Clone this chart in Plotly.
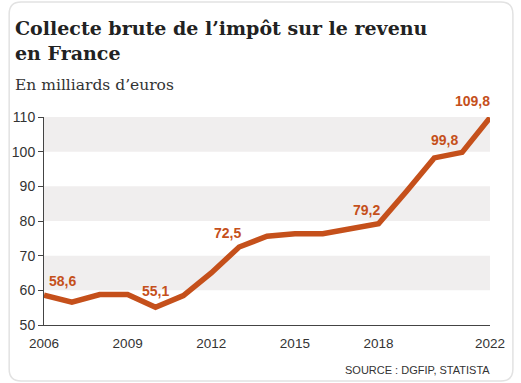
import plotly.graph_objects as go

years = list(range(2006, 2023))
values = [58.6, 56.6, 58.8, 58.8, 55.1, 58.5, 65.0, 72.5, 75.6, 76.3, 76.3, 77.7, 79.2, 88.5, 98.2, 99.8, 109.8]
label_years = [2006, 2010, 2013, 2018, 2021, 2022]
x_ticks = [2006, 2009, 2012, 2015, 2018, 2022]
y_ticks = [50, 60, 70, 80, 90, 100, 110]
bands = [(60, 70), (80, 90), (100, 110)]

W, H = 521, 383
L, R, T, B = 42, 31, 117, 58
pw, ph = W - L - R, H - T - B

ORANGE = "#C5501B"

fig = go.Figure()
fig.add_trace(go.Scatter(x=years, y=values, mode="lines",
                         line=dict(color=ORANGE, width=5.5), hoverinfo="skip",
                         cliponaxis=False))

shapes = []
for y0, y1 in bands:
    shapes.append(dict(type="rect", xref="x", yref="y", x0=years[0], x1=years[-1],
                       y0=y0, y1=y1, fillcolor="#F0EEEE", line=dict(width=0), layer="below"))

def px(x):
    return (x - L) / pw
def py(y):
    return (H - B - y) / ph

# rounded card border
x0, x1, y0, y1, r = 7, 513, 2, 381, 12
path = (f"M {px(x0 + r)},{py(y0)} L {px(x1 - r)},{py(y0)} Q {px(x1)},{py(y0)} {px(x1)},{py(y0 + r)} "
        f"L {px(x1)},{py(y1 - r)} Q {px(x1)},{py(y1)} {px(x1 - r)},{py(y1)} "
        f"L {px(x0 + r)},{py(y1)} Q {px(x0)},{py(y1)} {px(x0)},{py(y1 - r)} "
        f"L {px(x0)},{py(y0 + r)} Q {px(x0)},{py(y0)} {px(x0 + r)},{py(y0)} Z")
shapes.append(dict(type="path", xref="paper", yref="paper", path=path,
                   line=dict(color="#E2E2E2", width=1.5), layer="below"))

annotations = []
offsets = {2006: (18, 14), 2010: (0, 16), 2013: (-12, 14), 2018: (-12, 14), 2021: (-18, 12), 2022: (-18, 17)}
for yr in label_years:
    v = values[years.index(yr)]
    dx, dy = offsets[yr]
    annotations.append(dict(x=yr, y=v, xref="x", yref="y", text=f"{v:.1f}".replace(".", ","),
                            showarrow=False, xshift=dx, yshift=dy,
                            font=dict(family="Liberation Sans, Arial", size=14,
                                      color=ORANGE, weight="bold")))

annotations += [
    dict(xref="paper", yref="paper", x=px(11), y=py(15), xanchor="left", yanchor="top",
         text="<b>Collecte brute de l’impôt sur le revenu<br>en France</b>", align="left",
         showarrow=False, font=dict(family="DejaVu Serif", size=19, color="#222222")),
    dict(xref="paper", yref="paper", x=px(11), y=py(74), xanchor="left", yanchor="top",
         text="En milliards d’euros", align="left",
         showarrow=False, font=dict(family="DejaVu Serif", size=15.5, color="#333333")),
    dict(xref="paper", yref="paper", x=px(492), y=py(362), xanchor="right", yanchor="top",
         text="SOURCE : DGFIP, STATISTA", showarrow=False,
         font=dict(family="Liberation Sans, Arial", size=11, color="#333333")),
]

fig.update_layout(
    width=W, height=H, margin=dict(l=L, r=R, t=T, b=B),
    paper_bgcolor="white", plot_bgcolor="white", showlegend=False,
    shapes=shapes, annotations=annotations,
    xaxis=dict(range=[2006, 2022], tickvals=x_ticks, ticktext=[str(t) for t in x_ticks],
               showgrid=False, zeroline=False, showline=True, linecolor="#444444", linewidth=1,
               ticks="", ticklabelstandoff=6,
               tickfont=dict(family="Liberation Sans, Arial", size=13.5, color="#333333"),
               fixedrange=True),
    yaxis=dict(range=[50, 110], tickvals=y_ticks, showgrid=False, zeroline=False,
               showline=True, linecolor="#444444", linewidth=1, ticks="outside", ticklen=5,
               tickcolor="#444444",
               tickfont=dict(family="Liberation Sans, Arial", size=14, color="#333333"),
               fixedrange=True),
)

fig.write_html("out.html", config={"displayModeBar": False},
               post_script="document.body.style.margin='0';document.body.style.padding='0';")
